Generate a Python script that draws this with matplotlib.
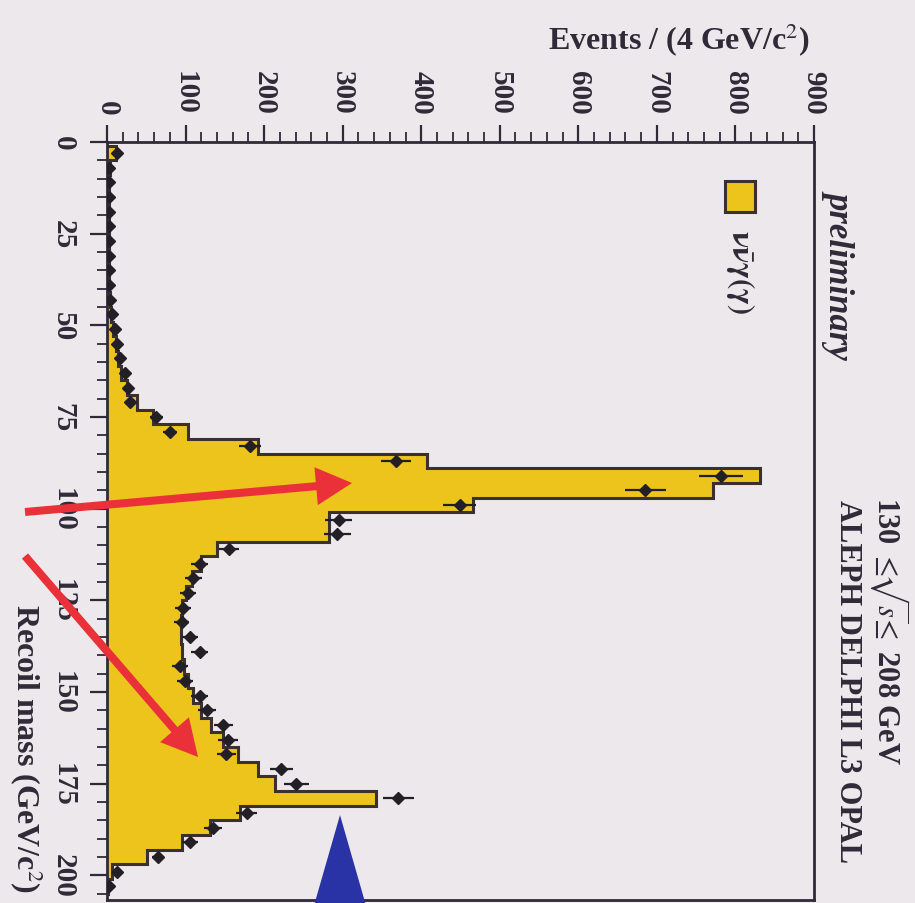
import numpy as np
import matplotlib
matplotlib.use("Agg")
import matplotlib.pyplot as plt
from matplotlib.patches import FancyArrow, Polygon, Rectangle
from matplotlib.transforms import IdentityTransform

plt.rcParams['font.family'] = ['Liberation Serif', 'DejaVu Serif']
plt.rcParams['mathtext.fontset'] = 'stix'

# Recoil mass bins, 4 GeV wide
bin_edges = np.arange(1, 206, 4)

# Expected nu nu gamma(gamma) spectrum per bin
mc_counts = [12, 4, 3, 2, 2, 2, 2, 2, 3, 3, 4, 5, 8, 11, 14, 18, 25, 38, 59,
             103, 192, 407, 831, 771, 466, 283, 283, 140, 120, 108, 100, 96,
             94, 94, 95, 98, 103, 110, 120, 133, 148, 167, 192, 214, 343, 169,
             131, 95, 51, 6, 1]

# Observed events per bin
data_counts = [13, 3, 2, 2, 2, 2, 3, 2, 3, 3, 4, 6, 10, 13, 17, 23, 27, 29, 63,
               80, 182, 368, 782, 685, 449, 295, 293, 155, 118, 110, 103, 97,
               95, 106, 118, 93, 99, 118, 127, 148, 154, 152, 222, 241, 371,
               178, 135, 106, 65, 13, 2]

events_ticks = [0, 100, 200, 300, 400, 500, 600, 700, 800, 900]
mass_ticks = [0, 25, 50, 75, 100, 125, 150, 175, 200]

W, H = 915, 904
bg = '#ece8ec'
ink = '#2e2a38'
yellow = '#ecc41c'

fig = plt.figure(figsize=(W / 100, H / 100), dpi=100, facecolor=bg)


def px(x0, y0, x1, y1):
    """Axes rectangle from pixel box (top-left origin)."""
    return [x0 / W, (H - y1) / H, (x1 - x0) / W, (y1 - y0) / H]


ax = fig.add_axes(px(107, 143, 814, 901))
ax.set_facecolor(bg)

edges = np.asarray(bin_edges, dtype=float)
centers = 0.5 * (edges[:-1] + edges[1:])
mc = np.asarray(mc_counts, dtype=float)
dat = np.asarray(data_counts, dtype=float)

# Histogram drawn sideways: events along x, recoil mass along y
ax.stairs(mc, edges, orientation='horizontal', fill=True, color=yellow,
          zorder=1)
ax.stairs(mc, edges, orientation='horizontal', color='#3a3030', lw=2.2,
          zorder=2)
ax.errorbar(dat, centers, xerr=np.sqrt(dat), fmt='D', ms=6.5,
            color='#231f26', ecolor='#231f26', elinewidth=1.6, capsize=0,
            zorder=3)

ax.set_xlim(0, 900)
ax.set_ylim(206.7, 0)

ax.xaxis.tick_top()
ax.set_xticks(events_ticks)
ax.set_xticks(np.arange(0, 901, 20), minor=True)
ax.set_yticks(mass_ticks)
ax.set_yticks(np.arange(0, 206, 5), minor=True)
ax.tick_params(axis='both', which='major', direction='out', length=12,
               width=1.6, color=ink, labelsize=21, labelcolor=ink)
ax.tick_params(axis='both', which='minor', direction='out', length=7,
               width=1.3, color=ink)
ax.tick_params(axis='x', which='major', pad=8)
ax.tick_params(axis='y', which='major', pad=10)
ax.set_xticklabels([str(v) for v in events_ticks], rotation=-90,
                   fontweight='bold')
ax.set_yticklabels([str(v) for v in mass_ticks], rotation=-90,
                   va='center', fontweight='bold')
for s in ax.spines.values():
    s.set_color(ink)
    s.set_linewidth(2.0)

# Axis titles and annotations
fig.text(810 / W, 1 - 40 / H, 'Events / (4 GeV/c$^{2}$)', ha='right',
         va='center', fontsize=23, fontweight='bold', color=ink)
fig.text(26 / W, 1 - 893 / H, 'Recoil mass (GeV/c$^{2}$)', rotation=-90,
         ha='center', va='bottom', fontsize=23, fontweight='bold', color=ink)
fig.text(840 / W, 1 - 190 / H, 'preliminary', rotation=-90, ha='center',
         va='top', fontsize=25, style='italic', fontweight='bold', color=ink)
fig.text(890 / W, 1 - 497 / H, r'130 $\leq\!\!\sqrt{s}\!\!\leq$ 208 GeV',
         rotation=-90, ha='center', va='top', fontsize=22,
         fontweight='bold', color=ink)
fig.text(848 / W, 1 - 500 / H, 'ALEPH DELPHI L3 OPAL', rotation=-90,
         ha='center', va='top', fontsize=22, fontweight='bold', color=ink)

# Legend entry
fig.add_artist(Rectangle((725, H - 213), 30, 31, transform=IdentityTransform(),
                         facecolor=yellow, edgecolor='#3a3030', lw=2.2))
fig.text(741 / W, 1 - 230 / H,
         r'$\mathbf{\nu}\bar{\mathbf{\nu}}\mathbf{\gamma(\gamma)}$',
         rotation=-90, ha='center', va='top', fontsize=22, color=ink)

# Highlight arrows
red = '#ea3038'
for (x0, y0), (x1, y1) in [((25, 513), (352, 484)), ((25, 557), (198, 758))]:
    fig.add_artist(FancyArrow(x0, H - y0, x1 - x0, -(y1 - y0), width=8,
                              head_width=38, head_length=36,
                              length_includes_head=True, color=red, lw=0,
                              transform=IdentityTransform(), zorder=5))

# Blue pointer at the bottom
fig.add_artist(Polygon([(340, H - 816), (313, -6), (367, -6)], closed=True,
                       transform=IdentityTransform(), facecolor='#2a33a6',
                       edgecolor='none', zorder=5))

fig.savefig('out.png', dpi=100, facecolor=bg)
